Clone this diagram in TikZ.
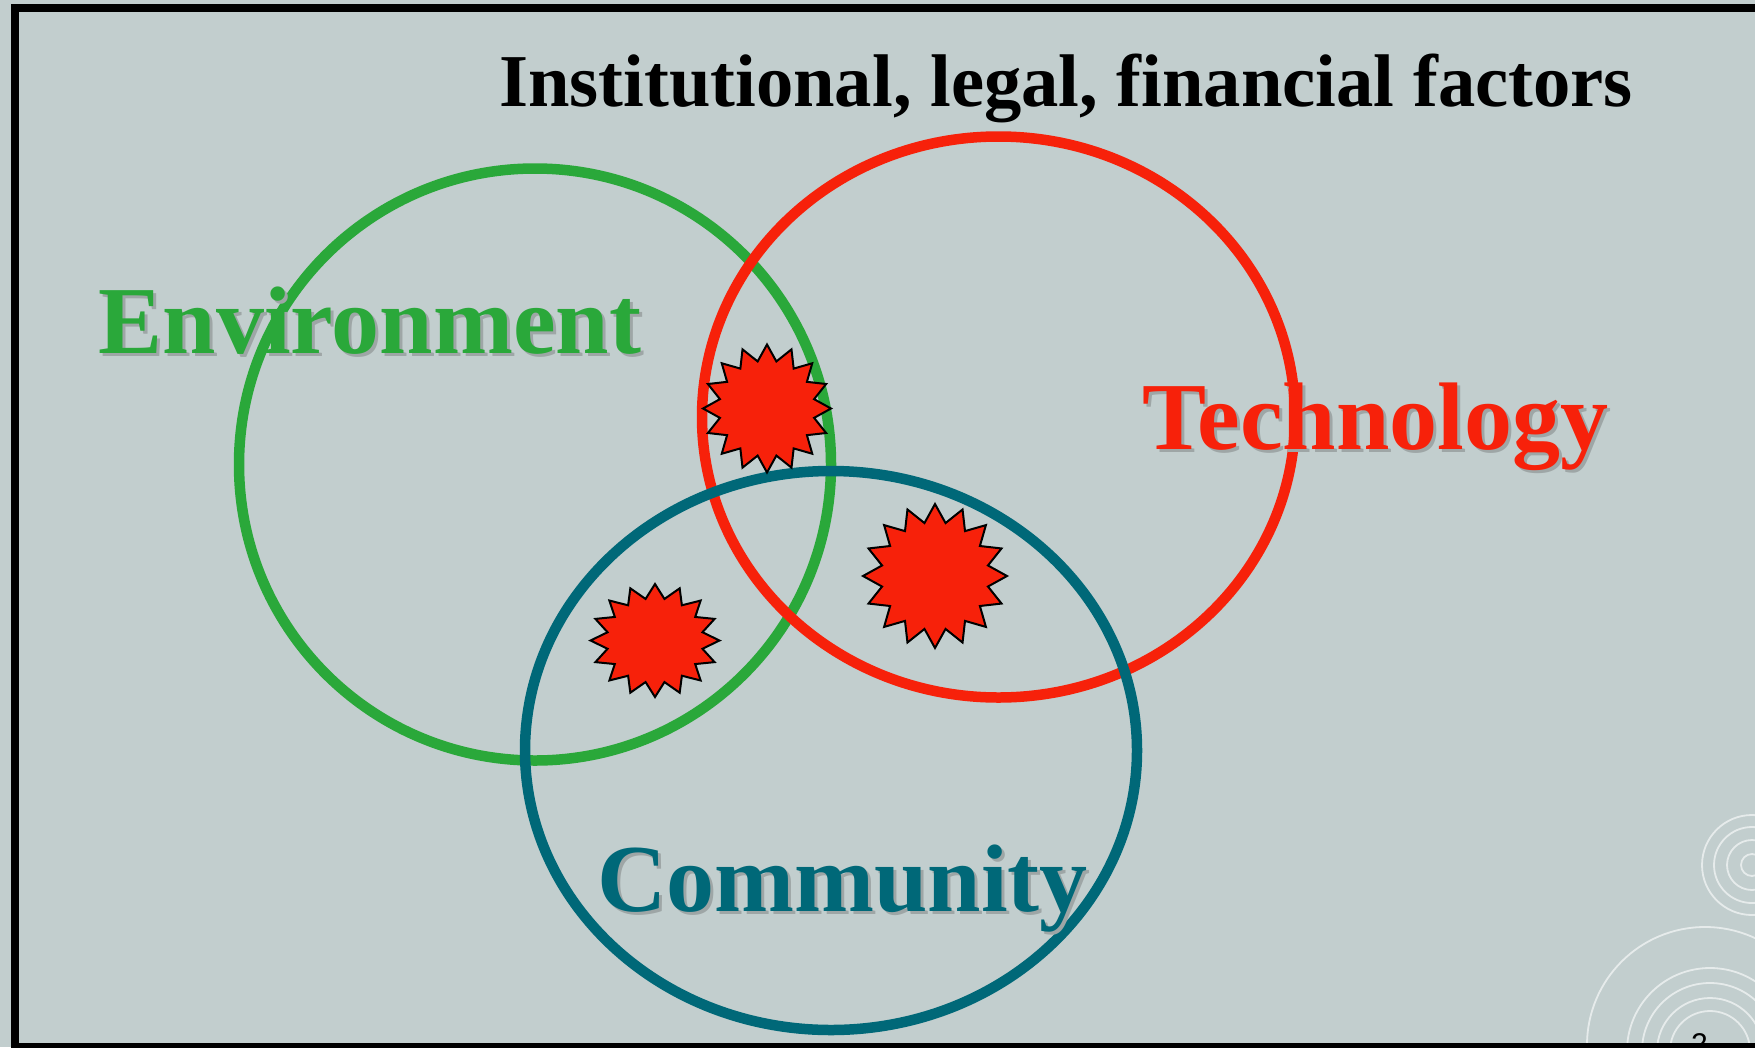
\documentclass[tikz,border=0pt]{standalone}
\usepackage{fontspec}
\setmainfont{Liberation Serif}
\newfontfamily\numfont{Liberation Sans}
\definecolor{bg}{RGB}{194,206,206}
\definecolor{envgreen}{RGB}{42,168,58}
\definecolor{techred}{RGB}{247,33,10}
\definecolor{commteal}{RGB}{0,104,120}
\definecolor{shadowgray}{RGB}{158,166,166}
\newcommand\drawburst[4]{%
  \draw[starburst] plot[samples=32,domain=0:31]
    ({#1+#3*(0.875+0.125*cos(180*\x))*cos(90+11.25*\x)},
     {#2-#4*(0.875+0.125*cos(180*\x))*sin(90+11.25*\x)}) -- cycle;}
\begin{document}
\begin{tikzpicture}[x=1pt,y=-1pt,
  venn/.style={line width=10.5pt},
  starburst/.style={fill=techred,draw=black,line width=2pt,line join=miter},
  bigword/.style={font=\bfseries\fontsize{96}{96}\selectfont,inner sep=0pt,anchor=base west},
  titletext/.style={font=\bfseries\fontsize{74.6}{74.6}\selectfont,inner sep=0pt,anchor=base west},
  ring/.style={draw=white,draw opacity=0.6,line width=1.8pt}]
\useasboundingbox (0,0) rectangle (1755,1047);
\clip (0,0) rectangle (1755,1047);
\fill[bg] (0,0) rectangle (1755,1047);
% decorative rings
\foreach \r in {50,38,25,11} \draw[ring] (1752,865) circle [radius=\r pt];
\draw[ring] (1705,1045) circle [radius=118pt];
\foreach \r in {83,68,53,40} \draw[ring] (1710,1051) circle [radius=\r pt];
% Venn ellipses
\draw[venn,envgreen] (535,464.5) ellipse [x radius=296pt,y radius=296pt];
\draw[venn,techred] (998.5,417) ellipse [x radius=296.5pt,y radius=280.5pt];
\draw[venn,commteal] (831,750.5) ellipse [x radius=306pt,y radius=279.5pt];
% starbursts
\drawburst{767}{408.5}{64}{64}
\drawburst{935}{576}{72}{72}
\drawburst{655}{640.5}{64.5}{56.5}
% texts
\node[titletext] (title) at (499,106) {Institutional, legal, financial factors};
\node[bigword,shadowgray] (envshadow) at (101.5,356.7) {Environment};
\node[bigword,envgreen] (env) at (98.5,353.7) {Environment};
\node[bigword,shadowgray] (techshadow) at (1145,452) {Technology};
\node[bigword,techred] (tech) at (1142,449) {Technology};
\node[bigword,shadowgray] (commshadow) at (600,914) {Community};
\node[bigword,commteal] (comm) at (597,911) {Community};
\node[font=\numfont\fontsize{30}{30}\selectfont,inner sep=0pt,anchor=base west] (pagenum) at (1691,1054) {2};
% frame
\draw[line width=8pt] (15,8) rectangle (1775,1047);
\end{tikzpicture}
\end{document}
